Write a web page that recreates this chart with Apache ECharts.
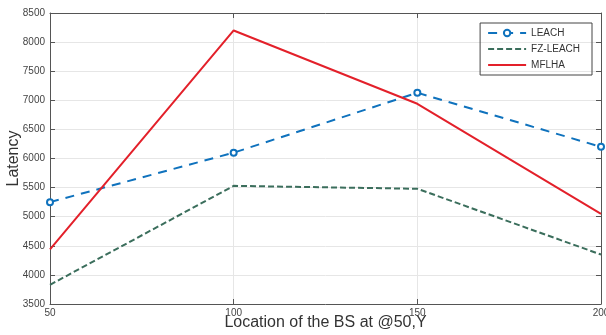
<!DOCTYPE html>
<html>
<head>
<meta charset="utf-8">
<script src="https://cdn.jsdelivr.net/npm/echarts@6/dist/echarts.min.js"></script>
<style>
  html, body { margin: 0; padding: 0; background: #fff; }
  #chart { width: 606px; height: 335px; }
</style>
</head>
<body>
<div id="chart"></div>
<script>
// data
const locations = [50, 100, 150, 200];
const leach = [5250, 6100, 7130, 6200];
const fzLeach = [3830, 5530, 5480, 4350];
const mflha = [4440, 8200, 6940, 5050];

const chart = echarts.init(document.getElementById('chart'));

const pairs = (ys) => locations.map((x, i) => [x, ys[i]]);
const axisCol = '#555';
const font = 'Liberation Sans, Arial, sans-serif';

const option = {
  animation: false,
  grid: { left: 50, right: 5, top: 13, bottom: 31, outerBoundsMode: 'none', containLabel: false },
  legend: {
    orient: 'vertical',
    right: 14,
    top: 23,
    itemWidth: 38,
    itemHeight: 8,
    itemGap: 6,
    padding: [5, 12, 5, 7],
    borderColor: '#444',
    borderWidth: 1,
    textStyle: { fontSize: 10, color: '#333', fontFamily: font },
    data: [
      { name: 'LEACH' },
      { name: 'FZ-LEACH', itemStyle: { opacity: 0 } },
      { name: 'MFLHA', itemStyle: { opacity: 0 } }
    ]
  },
  xAxis: [
    {
      type: 'value',
      min: 50, max: 200, interval: 50,
      name: 'Location of the BS at @50,Y',
      nameLocation: 'middle',
      nameGap: 11,
      nameMoveOverlap: false,
      nameTextStyle: { fontSize: 16, color: '#333', fontFamily: font },
      axisLine: { lineStyle: { color: axisCol, width: 1 } },
      axisTick: { inside: true, length: 5, lineStyle: { color: axisCol } },
      axisLabel: { fontSize: 10, color: '#444', margin: 4, fontFamily: font },
      splitLine: { show: true, lineStyle: { color: '#e6e6e6' } }
    },
    {
      type: 'value', position: 'top',
      min: 50, max: 200, interval: 50,
      axisLine: { show: true, lineStyle: { color: axisCol, width: 1 } },
      axisTick: { show: true, inside: true, length: 5, lineStyle: { color: axisCol } },
      axisLabel: { show: false },
      splitLine: { show: false }
    }
  ],
  yAxis: [
    {
      type: 'value',
      min: 3500, max: 8500, interval: 500,
      name: 'Latency',
      nameLocation: 'middle',
      nameGap: 28,
      nameMoveOverlap: false,
      nameTextStyle: { fontSize: 16, color: '#333', fontFamily: font },
      axisLine: { show: true, lineStyle: { color: axisCol, width: 1 } },
      axisTick: { show: true, inside: true, length: 5, lineStyle: { color: axisCol } },
      axisLabel: { fontSize: 10, color: '#444', margin: 5, fontFamily: font, formatter: (v) => String(v) },
      splitLine: { show: true, lineStyle: { color: '#e6e6e6' } }
    },
    {
      type: 'value', position: 'right',
      min: 3500, max: 8500, interval: 500,
      axisLine: { show: true, lineStyle: { color: axisCol, width: 1 } },
      axisTick: { show: true, inside: true, length: 5, lineStyle: { color: axisCol } },
      axisLabel: { show: false },
      splitLine: { show: false }
    }
  ],
  series: [
    {
      name: 'LEACH',
      type: 'line',
      data: pairs(leach),
      symbol: 'circle',
      symbolSize: 6,
      itemStyle: { color: '#fff', borderColor: '#0f72bd', borderWidth: 2 },
      lineStyle: { color: '#0f72bd', width: 2, type: [9, 7] },
      color: '#0f72bd',
      z: 3
    },
    {
      name: 'FZ-LEACH',
      type: 'line',
      data: pairs(fzLeach),
      symbol: 'none',
      lineStyle: { color: '#3b6e5c', width: 2, type: [6, 3] },
      color: '#3b6e5c',
      z: 2
    },
    {
      name: 'MFLHA',
      type: 'line',
      data: pairs(mflha),
      symbol: 'none',
      lineStyle: { color: '#e3202a', width: 2 },
      color: '#e3202a',
      z: 4
    }
  ]
};

chart.setOption(option);
window.addEventListener('resize', () => chart.resize());
</script>
</body>
</html>
